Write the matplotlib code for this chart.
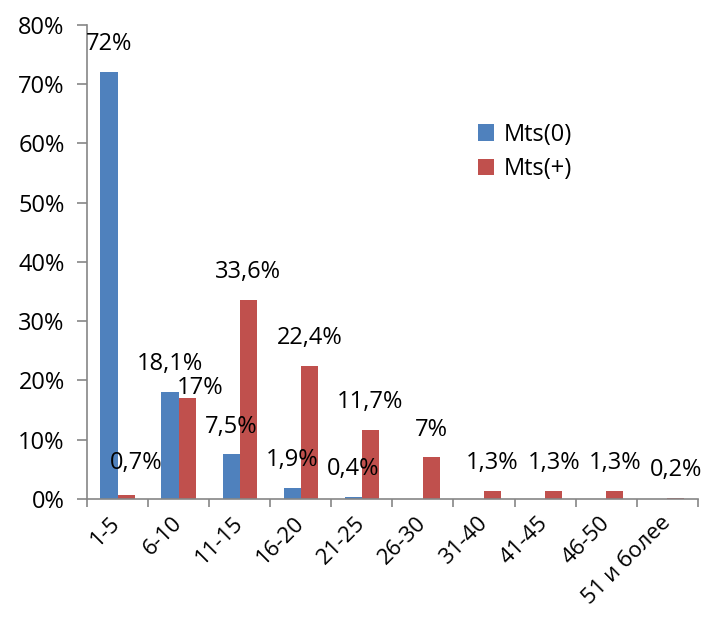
import numpy as np
import matplotlib.pyplot as plt
from matplotlib.ticker import FuncFormatter, FixedLocator

plt.rcParams['font.family'] = ['Open Sans', 'DejaVu Sans']

categories = ['1-5', '6-10', '11-15', '16-20', '21-25', '26-30',
              '31-40', '41-45', '46-50', '51 и более']
mts0 = [72, 18.1, 7.5, 1.9, 0.4, 0, 0, 0, 0, 0]
mts_plus = [0.7, 17, 33.6, 22.4, 11.7, 7, 1.3, 1.3, 1.3, 0.2]
labels0 = ['72%', '18,1%', '7,5%', '1,9%', '0,4%', '', '', '', '', '']
labels_plus = ['0,7%', '17%', '33,6%', '22,4%', '11,7%', '7%',
               '1,3%', '1,3%', '1,3%', '0,2%']

blue = '#4F81BD'
red = '#C0504D'
axis_gray = '#868686'
fs = 17

fig = plt.figure(figsize=(7.07, 6.19), dpi=100)
ax = fig.add_axes([0.123, 0.194, 0.864, 0.766])

x = np.arange(len(categories))
w = 0.28
v0 = np.array(mts0) / 100
vp = np.array(mts_plus) / 100
b0 = ax.bar(x - w / 2, v0, w, color=blue, label='Mts(0)')
bp = ax.bar(x + w / 2, vp, w, color=red, label='Mts(+)')

# data labels, a couple nudged so they don't collide
shift = {('+', 0): (7, 23), ('+', 1): (9, 7)}
for i in range(len(categories)):
    if labels0[i]:
        ax.annotate(labels0[i], (x[i] - w / 2, v0[i]), xytext=(0, 20),
                    textcoords='offset points', ha='center', va='center',
                    fontsize=fs)
    dx, dy = shift.get(('+', i), (0, 20))
    ax.annotate(labels_plus[i], (x[i] + w / 2, vp[i]), xytext=(dx, dy),
                textcoords='offset points', ha='center', va='center',
                fontsize=fs)

ax.set_xlim(-0.5, len(categories) - 0.5)
ax.set_ylim(0, 0.8)
ax.set_yticks(np.arange(0, 0.81, 0.1))
ax.yaxis.set_major_formatter(FuncFormatter(lambda v, p: f'{v * 100:.0f}%'))

ax.set_xticks(x)
ax.set_xticklabels(categories, rotation=45, ha='right', va='center',
                   rotation_mode='anchor', fontsize=16)
ax.xaxis.set_minor_locator(FixedLocator(np.arange(-0.5, len(categories), 1)))
ax.tick_params(axis='x', which='major', length=0, pad=15)
ax.tick_params(axis='x', which='minor', length=6, width=1.2, color=axis_gray)
ax.tick_params(axis='y', length=7, width=1.2, color=axis_gray, labelsize=fs, pad=9)

for s in ['top', 'right']:
    ax.spines[s].set_visible(False)
for s in ['left', 'bottom']:
    ax.spines[s].set_color(axis_gray)
    ax.spines[s].set_linewidth(1.2)

ax.legend(loc='upper left', bbox_to_anchor=(0.624, 0.813), frameon=False,
          fontsize=fs, handlelength=0.7, handleheight=0.7,
          handletextpad=0.4, labelspacing=0.45, borderaxespad=0)

fig.savefig('out.png', dpi=100)
